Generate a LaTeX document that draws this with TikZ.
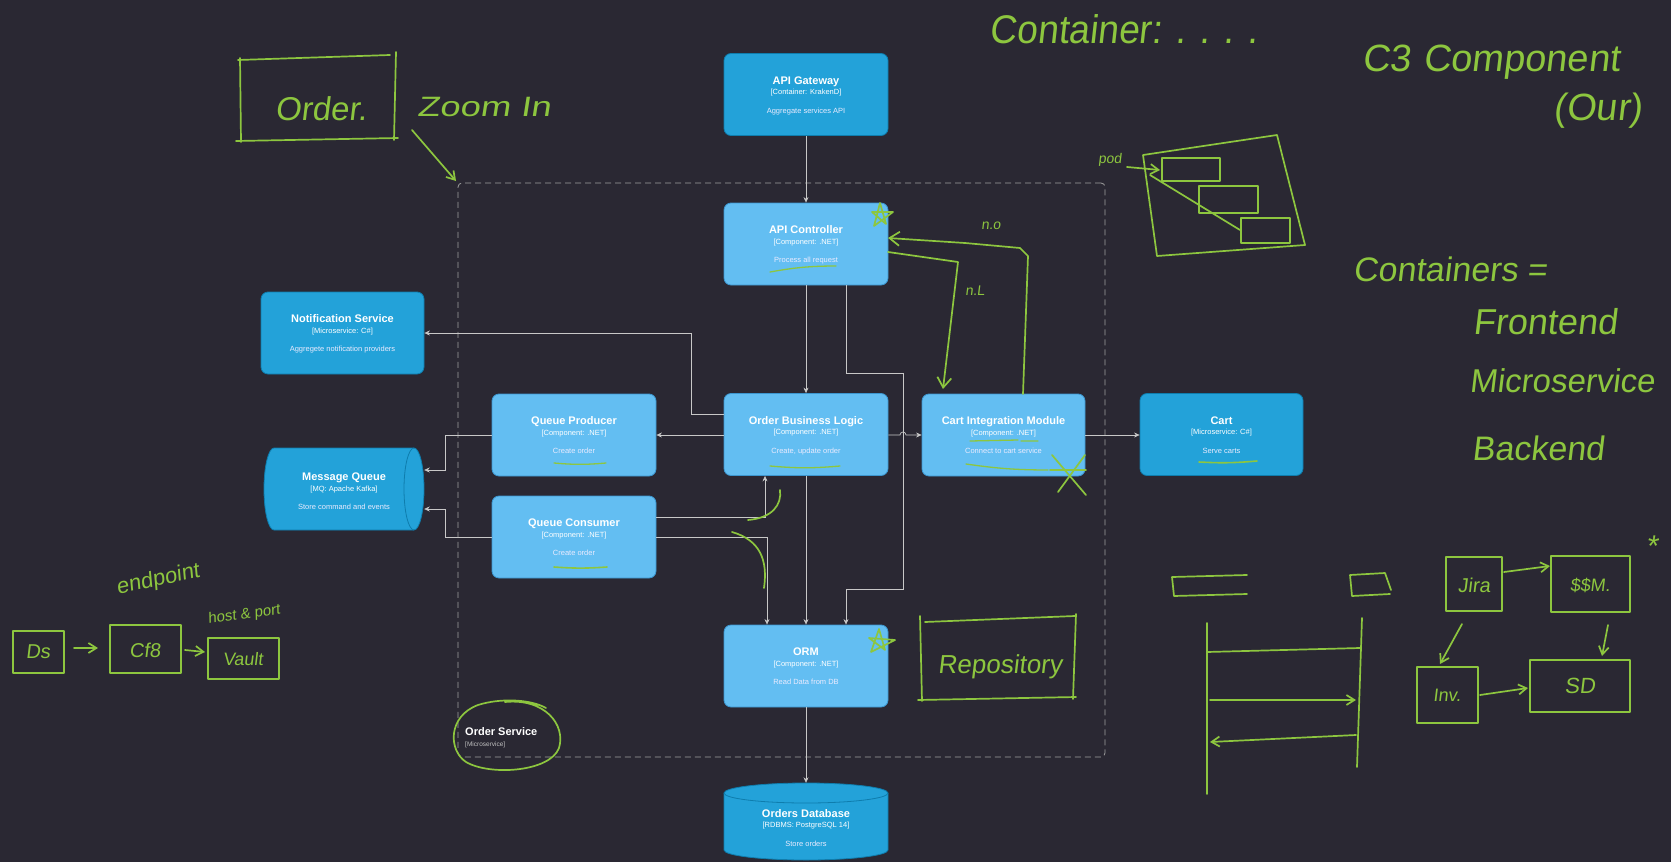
\documentclass[tikz,border=0pt]{standalone}
\usepackage{fontspec}
\setmainfont{Liberation Sans}
\newfontfamily\handfont[FakeSlant=0.12]{Liberation Sans}
\usetikzlibrary{arrows.meta,calc}

\definecolor{bg}{HTML}{2A2833}
\definecolor{contfill}{HTML}{23A2D9}
\definecolor{contline}{HTML}{0E7DAD}
\definecolor{compfill}{HTML}{63BEF2}
\definecolor{compline}{HTML}{3C96CF}
\definecolor{wire}{HTML}{C8C8C8}
\definecolor{pencol}{HTML}{8DC63F}
\definecolor{framecol}{HTML}{A0A0A0}

\tikzset{
  boxbase/.style={rounded corners=7pt, line width=0.8pt, inner sep=0pt,
    minimum width=164pt, minimum height=82pt},
  container/.style={boxbase, draw=contline, fill=contfill},
  component/.style={boxbase, draw=compline, fill=compfill},
  ttl/.style={anchor=base, text=white, inner sep=0pt, font=\bfseries\fontsize{11}{13}\selectfont},
  sub/.style={anchor=base, text=white, inner sep=0pt, font=\fontsize{7.5}{9}\selectfont},
  dsc/.style={anchor=base, text=white!92!blue, inner sep=0pt, font=\fontsize{7.5}{9}\selectfont},
  conn/.style={draw=wire, line width=0.7pt, -{Stealth[length=5.5pt,width=5pt]}},
  pen/.style={draw=pencol, line width=1.7pt, line cap=round, line join=round},
  penarrow/.style={pen, -{Straight Barb[length=8pt,width=10pt]}},
  hand/.style={text=pencol, inner sep=0pt, transform shape},
}

% three text lines of a C4 box, placed around the box centre
\newcommand\cfourtext[5][0pt]{%
  \node[ttl] (#2-t) at ([yshift=10.5pt+#1]#2.center) {#3};
  \node[sub] (#2-s) at ([yshift=#1]#2.center) {#4};
  \node[dsc] (#2-d) at ([yshift=-18.5pt+#1]#2.center) {#5};}

\begin{document}
\begin{tikzpicture}[x=1pt,y=1pt]
\fill[bg] (0,0) rectangle (1671,-862);
\useasboundingbox (0,0) rectangle (1671,-862);

% ---------- system boundary ----------
\node[draw=framecol, dashed, dash pattern=on 6pt off 4pt, line width=0.8pt,
      rounded corners=4pt, minimum width=647pt, minimum height=574pt, inner sep=0pt]
      (boundary) at (781.5,-470) {};
\node[anchor=base west, text=white, font=\bfseries\fontsize{11}{13}\selectfont, inner sep=0pt]
      (boundary-t) at (465,-735) {Order Service};
\node[anchor=base west, text=white!75!black, font=\fontsize{6.5}{8}\selectfont, inner sep=0pt]
      (boundary-s) at (465,-746) {[Microservice]};

% ---------- boxes ----------
\node[container] (gw) at (806,-94.5) {};
\cfourtext{gw}{API Gateway}{[Container: KrakenD]}{Aggregate services API}

\node[component] (ctrl) at (806,-244) {};
\cfourtext{ctrl}{API Controller}{[Component: .NET]}{Process all request}

\node[container, minimum width=163pt] (notif) at (342.5,-333) {};
\cfourtext{notif}{Notification Service}{[Microservice: C\#]}{Aggregete notification providers}

\node[component] (qp) at (574,-435) {};
\cfourtext{qp}{Queue Producer}{[Component: .NET]}{Create order}

\node[component] (obl) at (806,-434.5) {};
\cfourtext{obl}{Order Business Logic}{[Component: .NET]}{Create, update order}

\node[component, minimum width=163pt] (cim) at (1003.5,-435) {};
\cfourtext{cim}{Cart Integration Module}{[Component: .NET]}{Connect to cart service}

\node[container, minimum width=163pt] (cart) at (1221.5,-434.5) {};
\cfourtext{cart}{Cart}{[Microservice: C\#]}{Serve carts}

\node[component] (qc) at (574,-537) {};
\cfourtext{qc}{Queue Consumer}{[Component: .NET]}{Create order}

\node[component] (orm) at (806,-666) {};
\cfourtext{orm}{ORM}{[Component: .NET]}{Read Data from DB}

% message queue: horizontal cylinder
\node[inner sep=0pt, minimum width=160pt, minimum height=82pt] (mq) at (344,-489) {};
\filldraw[draw=contline, fill=contfill, line width=0.8pt]
  (274,-448) -- (414,-448) arc[start angle=90, end angle=-90, x radius=10, y radius=41]
  -- (274,-530) arc[start angle=270, end angle=90, x radius=10, y radius=41] -- cycle;
\draw[contline, line width=0.8pt] (414,-448) arc[start angle=90, end angle=270, x radius=10, y radius=41];
\cfourtext[-2pt]{mq}{Message Queue}{[MQ: Apache Kafka]}{Store command and events}

% orders database: vertical cylinder
\node[inner sep=0pt, minimum width=164pt, minimum height=77pt] (db) at (806,-821.5) {};
\filldraw[draw=contline, fill=contfill, line width=0.8pt]
  (724,-793) arc[start angle=180, end angle=0, x radius=82, y radius=10]
  -- (888,-850) arc[start angle=0, end angle=-180, x radius=82, y radius=10] -- cycle;
\draw[contline, line width=0.8pt] (724,-793) arc[start angle=180, end angle=360, x radius=82, y radius=10];
\cfourtext[-6pt]{db}{Orders Database}{[RDBMS: PostgreSQL 14]}{Store orders}

% ---------- connectors ----------
\draw[conn] (gw.south) -- (ctrl.north);
\draw[conn] (ctrl.south) -- (obl.north);
\draw[conn] (ctrl.south -| 846,0) |- (903,-373) |- (846,-589) -- (orm.north -| 846,0);
\draw[conn] (obl.west |- 0,-414) -- (691,-414) |- (notif.east);
\draw[conn] (obl.west |- 0,-435) -- (qp.east |- 0,-435);
\draw[conn] (qp.west) -- (445,-435) |- (mq.east |- 0,-470);
\draw[conn] (qc.west) -- (445,-537) |- (mq.east |- 0,-509);
\draw[conn] (qc.east |- 0,-517) -| (obl.south -| 765,0);
\draw[conn] (qc.east |- 0,-537) -- (767,-537) -- (orm.north -| 767,0);
\draw[conn] (obl.south) -- (orm.north);
\draw[conn] (obl.east |- 0,-435) -- (900,-435) arc[start angle=180, end angle=0, radius=3] -- (cim.west |- 0,-435);
\draw[conn] (cim.east |- 0,-435) -- (cart.west |- 0,-435);
\draw[conn] (orm.south) -- (db.north);

% ---------- pen notes ----------
% zoom-in note
\draw[pen] (240,-58) -- (241,-142) (236,-141) -- (398,-138) (396,-52) -- (394,-140) (238,-60) -- (390,-55);
\node[hand, font=\handfont\fontsize{33}{36}\selectfont] (n-order) at (321,-109) {Order.};
\node[hand, font=\handfont\fontsize{28}{30}\selectfont, xscale=1.3] (n-zoom) at (484,-107) {Zoom In};
\coordinate (z0) at (412,-130);
\coordinate (z1) at (456,-181);
\draw[penarrow] (z0) -- (z1);

% headings
\node[hand, font=\handfont\fontsize{40}{44}\selectfont, xscale=0.93] (n-cont) at (1124,-29) {Container: . . . .};
\node[hand, font=\handfont\fontsize{38}{42}\selectfont] (n-c3) at (1491,-62) {C3\,\,Component};
\node[hand, font=\handfont\fontsize{38}{42}\selectfont] (n-our) at (1598,-111) {(Our)};
\node[hand, font=\handfont\fontsize{34}{38}\selectfont] (n-conts) at (1450,-269) {Containers =};
\node[hand, font=\handfont\fontsize{36}{40}\selectfont] (n-fe) at (1545,-322) {Frontend};
\node[hand, font=\handfont\fontsize{33}{36}\selectfont] (n-ms) at (1562,-381) {Microservice};
\node[hand, font=\handfont\fontsize{34}{38}\selectfont] (n-be) at (1538,-448) {Backend};

% pod sketch
\draw[pen] (1143,-155) -- (1277,-135) -- (1305,-245) -- (1157,-256) -- cycle;
\draw[pen] (1162,-158) rectangle (1220,-181);
\draw[pen] (1199,-186) rectangle (1258,-213);
\draw[pen] (1241,-218) rectangle (1290,-243);
\draw[pen] (1150,-175) -- (1240,-230);
\node[hand, font=\handfont\fontsize{14}{16}\selectfont] (n-pod) at (1110,-160) {pod};
\draw[penarrow] (1127,-167) -- (1160,-170);

% arrows between controller and cart integration
\draw[pen, -{Straight Barb[length=10pt,width=14pt]}] (1023,-394) -- (1028,-256) -- (1020,-248) -- (965,-243) -- (888,-238);
\draw[pen, -{Straight Barb[length=10pt,width=14pt]}] (888,-252) -- (958,-262) -- (943,-389);
\node[hand, font=\handfont\fontsize{14}{16}\selectfont] (n-no) at (991,-226) {n.o};
\node[hand, font=\handfont\fontsize{14}{16}\selectfont] (n-nl) at (975,-291) {n.L};

% marks on boxes
\draw[pen] (874,-226) -- (880,-203) -- (886,-224) -- (872,-212) -- (893,-212) -- cycle;
\draw[pen] (871,-652) -- (879,-629) -- (885,-650) -- (869,-638) -- (895,-640) -- cycle;
\draw[pen] (1052,-455) -- (1086,-495) (1085,-455) -- (1058,-492) (1050,-470) -- (1086,-470);

% underlines
\draw[pen, line width=1.3pt] (770,-272) to[bend left=5] (836,-266);
\draw[pen, line width=1.3pt] (554,-463) to[bend right=5] (606,-463);
\draw[pen, line width=1.3pt] (770,-466) to[bend right=5] (840,-466);
\draw[pen, line width=1.3pt] (970,-441) -- (1018,-440) (1021,-441) -- (1038,-441);
\draw[pen, line width=1.3pt] (966,-464) to[bend right=4] (1048,-470);
\draw[pen, line width=1.6pt] (1199,-462) to[bend right=4] (1257,-461);
\draw[pen, line width=1.6pt] (554,-567) to[bend right=4] (607,-567);

% small strokes in the middle
\draw[pen] (748,-520) .. controls (772,-518) and (782,-505) .. (780,-490);
\draw[pen] (732,-532) .. controls (760,-540) and (768,-560) .. (764,-588);

% repository note
\draw[pen] (920,-616) -- (922,-701) (918,-700) -- (1076,-697) (1076,-614) -- (1073,-699) (925,-622) -- (1075,-616);
\node[hand, font=\handfont\fontsize{26}{28}\selectfont] (n-repo) at (1000,-667) {Repository};

% ring round the service name
\draw[pen] (505,-702) .. controls (545,-698) and (566,-725) .. (559,-748)
  .. controls (550,-772) and (490,-776) .. (466,-762)
  .. controls (448,-750) and (448,-716) .. (478,-705)
  .. controls (500,-698) and (530,-699) .. (546,-708);

% config chain
\draw[pen] (13,-631) rectangle (64,-673);
\node[hand, font=\handfont\fontsize{20}{22}\selectfont] (n-ds) at (38,-652) {Ds};
\draw[pen] (110,-625) rectangle (181,-673);
\node[hand, font=\handfont\fontsize{20}{22}\selectfont] (n-cf) at (145,-650) {Cf8};
\draw[pen] (208,-638) rectangle (279,-679);
\node[hand, font=\handfont\fontsize{18}{20}\selectfont] (n-vault) at (243,-659) {Vault};
\coordinate (a1) at (74,-648);
\coordinate (a2) at (98,-648);
\coordinate (a3) at (185,-650);
\coordinate (a4) at (205,-652);
\draw[penarrow] (a1) -- (a2);
\draw[penarrow] (a3) -- (a4);
\node[hand, font=\handfont\fontsize{22}{24}\selectfont, rotate=12] (n-ep) at (158,-580) {endpoint};
\node[hand, font=\handfont\fontsize{15}{17}\selectfont, rotate=8] (n-hp) at (244,-615) {host \& port};

% sequence sketch
\draw[pen] (1172,-577) -- (1247,-575) (1172,-577) -- (1174,-596) (1174,-596) -- (1247,-594);
\draw[pen] (1350,-575) -- (1385,-573) -- (1391,-590) (1350,-575) -- (1352,-596) -- (1390,-594);
\draw[pen] (1207,-623) -- (1207,-794);
\draw[pen] (1362,-618) -- (1357,-767);
\draw[pen] (1207,-652) -- (1360,-648);
\draw[penarrow] (1210,-700) -- (1356,-700);
\draw[penarrow] (1356,-735) -- (1210,-742);

% task flow sketch
\draw[pen] (1446,-557) rectangle (1502,-611);
\node[hand, font=\handfont\fontsize{20}{22}\selectfont] (n-jira) at (1474,-585) {Jira};
\draw[pen] (1551,-556) rectangle (1630,-612);
\node[hand, font=\handfont\fontsize{18}{20}\selectfont] (n-crm) at (1590,-585) {\$\$M.};
\draw[pen] (1417,-667) rectangle (1478,-723);
\node[hand, font=\handfont\fontsize{18}{20}\selectfont] (n-inv) at (1447,-695) {Inv.};
\draw[pen] (1530,-660) rectangle (1630,-712);
\node[hand, font=\handfont\fontsize{22}{24}\selectfont] (n-sd) at (1580,-686) {SD};
\draw[penarrow] (1504,-572) -- (1550,-566);
\draw[penarrow] (1608,-625) -- (1602,-656);
\draw[penarrow] (1462,-624) -- (1440,-664);
\draw[penarrow] (1480,-695) -- (1528,-688);
\node[hand, font=\handfont\fontsize{30}{32}\selectfont] (n-star) at (1652,-546) {*};

\end{tikzpicture}
\end{document}
